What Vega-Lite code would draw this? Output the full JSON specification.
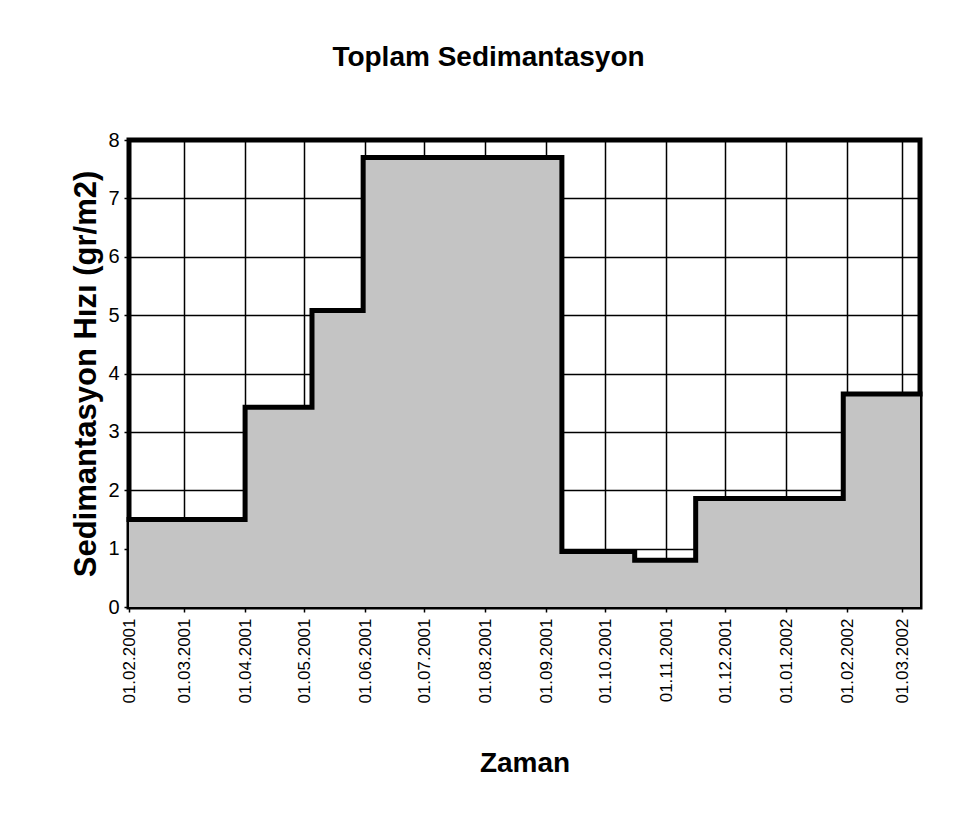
{
  "$schema": "https://vega.github.io/schema/vega-lite/v6.json",
  "autosize": "none",
  "width": 791,
  "height": 467,
  "padding": {"left": 129, "top": 140, "right": 40, "bottom": 209},
  "background": "white",
  "title": {
    "text": "Toplam Sedimantasyon",
    "font": "Liberation Sans",
    "fontSize": 28,
    "fontWeight": "bold",
    "color": "black",
    "anchor": "middle",
    "dx": -36,
    "offset": 58
  },
  "data": {
    "values": [
      {"tarih": "2001-02-01", "hiz": 1.5},
      {"tarih": "2001-04-01", "hiz": 3.42},
      {"tarih": "2001-05-05", "hiz": 5.08},
      {"tarih": "2001-05-31", "hiz": 7.7},
      {"tarih": "2001-09-09", "hiz": 0.95},
      {"tarih": "2001-10-16", "hiz": 0.8},
      {"tarih": "2001-11-16", "hiz": 1.86},
      {"tarih": "2002-01-30", "hiz": 3.65},
      {"tarih": "2002-03-10", "hiz": 3.65}
    ],
    "format": {"parse": {"tarih": "date:'%Y-%m-%d'"}}
  },
  "mark": {
    "type": "area",
    "interpolate": "step-after",
    "color": "#c4c4c4",
    "opacity": 1,
    "fillOpacity": 1,
    "line": {"color": "black", "strokeWidth": 5, "strokeJoin": "miter", "strokeCap": "square"}
  },
  "encoding": {
    "x": {
      "field": "tarih",
      "type": "temporal",
      "title": "Zaman",
      "scale": {"domain": [{"year": 2001, "month": 2, "date": 1}, {"year": 2002, "month": 3, "date": 10}], "nice": false},
      "axis": {
        "format": "%d.%m.%Y",
        "tickCount": {"interval": "month", "step": 1},
        "labelAngle": -90,
        "labelFont": "Liberation Sans",
        "labelFontSize": 17,
        "labelColor": "black",
        "labelPadding": 6,
        "labelFlush": false,
        "labelOverlap": false,
        "tickColor": "black",
        "tickSize": 5,
        "tickWidth": 1.5,
        "domain": false,
        "grid": true,
        "gridColor": "black",
        "gridWidth": 1.5,
        "gridOpacity": 1,
        "titleFont": "Liberation Sans",
        "titleFontSize": 28,
        "titleFontWeight": "bold",
        "titleColor": "black",
        "titlePadding": 46
      }
    },
    "y": {
      "field": "hiz",
      "type": "quantitative",
      "title": "Sedimantasyon Hızı (gr/m2)",
      "scale": {"domain": [0, 8], "nice": false},
      "axis": {
        "values": [0, 1, 2, 3, 4, 5, 6, 7, 8],
        "labelFont": "Liberation Sans",
        "labelFontSize": 20,
        "labelColor": "black",
        "labelPadding": 5,
        "tickColor": "black",
        "tickSize": 5,
        "tickWidth": 1.5,
        "domain": false,
        "grid": true,
        "gridColor": "black",
        "gridWidth": 1.5,
        "gridOpacity": 1,
        "titleFont": "Liberation Sans",
        "titleFontSize": 31,
        "titleFontWeight": "bold",
        "titleColor": "black",
        "titlePadding": 5
      }
    }
  },
  "config": {
    "view": {"stroke": "black", "strokeWidth": 5}
  }
}
